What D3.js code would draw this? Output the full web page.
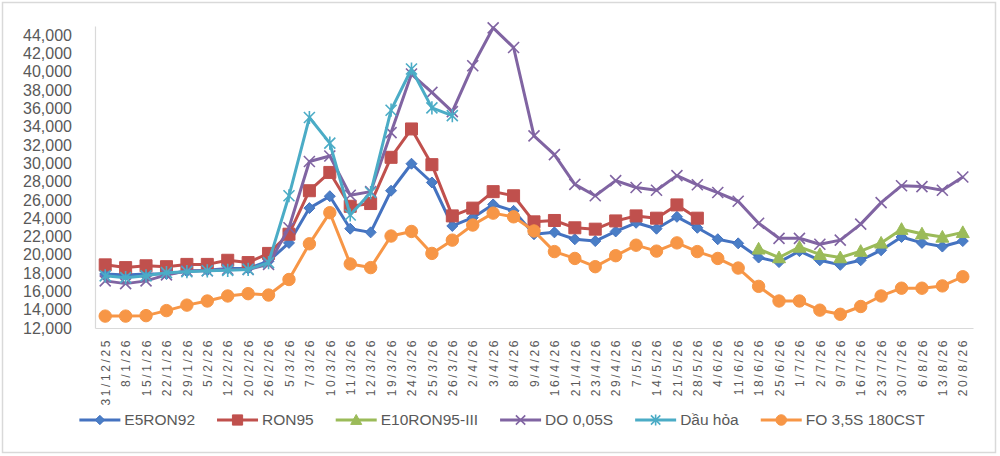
<!DOCTYPE html>
<html><head><meta charset="utf-8">
<script src="https://cdn.jsdelivr.net/npm/d3@7"></script>
<style>
html,body{margin:0;padding:0;background:#fff;}
svg{display:block;font-family:"Liberation Sans",Arial,sans-serif;}
</style></head>
<body><svg id="c" width="1000" height="456"></svg>
<script>
const dates = ["31/12/25","8/1/26","15/1/26","22/1/26","29/1/26","5/2/26","12/2/26","20/2/26","26/2/26","5/3/26","7/3/26","10/3/26","11/3/26","12/3/26","19/3/26","24/3/26","25/3/26","26/3/26","2/4/26","3/4/26","8/4/26","9/4/26","16/4/26","21/4/26","23/4/26","29/4/26","7/5/26","14/5/26","21/5/26","28/5/26","4/6/26","11/6/26","18/6/26","25/6/26","1/7/26","2/7/26","9/7/26","16/7/26","23/7/26","30/7/26","6/8/26","13/8/26","20/8/26"];

const e5ron92 = [17900,17800,17900,17900,18200,18300,18500,18500,19300,21300,25100,26400,22850,22450,27000,29950,27900,23150,24050,25500,24800,22250,22450,21700,21500,22550,23500,22850,24150,22950,21700,21250,19700,19200,20400,19400,18900,19400,20500,21950,21300,20900,21500];
const ron95 = [18900,18600,18800,18700,18950,18950,19400,19150,20150,22250,27000,29000,25300,25600,30650,33750,29850,24250,25100,26900,26450,23600,23750,22950,22800,23700,24250,24000,25450,24000,null,null,null,null,null,null,null,null,null,null,null,null,null];
const e10ron95 = [null,null,null,null,null,null,null,null,null,null,null,null,null,null,null,null,null,null,null,null,null,null,null,null,null,null,null,null,null,null,null,null,20650,19700,20850,20050,19700,20400,21300,22800,22300,21950,22450];
const do005s = [17150,16850,17150,17800,18250,18250,18400,18400,18950,22950,30200,30800,26500,26900,33350,39750,37750,35650,40650,44800,42650,33000,30950,27700,26450,28100,27350,27050,28650,27650,26800,25850,23450,21800,21800,21150,21600,23350,25700,27550,27450,27050,28500];
const dauhoa = [17700,17500,17700,18050,18150,18250,18300,18400,19150,26450,35000,32200,24350,26800,35800,40300,36050,35200,null,null,null,null,null,null,null,null,null,null,null,null,null,null,null,null,null,null,null,null,null,null,null,null,null];
const fo35s = [13300,13300,13350,13900,14500,14950,15500,15750,15600,17300,21200,24600,19000,18600,22050,22550,20150,21600,23250,24550,24150,22600,20350,19600,18700,19900,21050,20400,21300,20350,19600,18550,16550,14950,14950,13950,13500,14350,15500,16350,16350,16600,17600];

const seriesNames = ["E5RON92","RON95","E10RON95-III","DO 0,05S","Dầu hỏa","FO 3,5S 180CST"];
const yTicks = [12000,14000,16000,18000,20000,22000,24000,26000,28000,30000,32000,34000,36000,38000,40000,42000,44000];

const seriesData = [e5ron92, ron95, e10ron95, do005s, dauhoa, fo35s];
const styles = [
  {color:"#4472C0", fill:"#4A7EC6", marker:"diamond", size:5.5},
  {color:"#C0504D", fill:"#C0504D", marker:"square", size:6},
  {color:"#9BBB59", fill:"#9BBB59", marker:"triangle", size:6.5},
  {color:"#8064A2", fill:"#8064A2", marker:"x", size:5.5},
  {color:"#4BACC6", fill:"#4BACC6", marker:"star", size:5.5},
  {color:"#F79646", fill:"#F79646", marker:"circle", size:6.2}
];

const svg = d3.select("#c");
svg.append("rect").attr("x",2.5).attr("y",2.5).attr("width",993).attr("height",450)
  .attr("fill","#fff").attr("stroke","#d9d9d9").attr("stroke-width",1.5);

const L=95, R=973, T=26, B=328;
const x = d3.scalePoint().domain(dates).range([L,R]).padding(0.5);
const y = d3.scaleLinear().domain([12000,45000]).range([B,T]);

// axes
const yAxis = d3.axisLeft(y).tickValues(yTicks).tickFormat(d3.format(",")).tickSize(0).tickPadding(23);
const gy = svg.append("g").attr("transform",`translate(${L},0)`).call(yAxis);
gy.select(".domain").attr("stroke","#d9d9d9").attr("stroke-width",1.2);
gy.selectAll("text").attr("fill","#595959").attr("font-size","16px").attr("font-family","Liberation Sans, Arial, sans-serif");

const xAxis = d3.axisBottom(x).tickSize(0).tickPadding(0);
const gx = svg.append("g").attr("transform",`translate(0,${B})`).call(xAxis);
gx.select(".domain").attr("stroke","#d9d9d9").attr("stroke-width",1.2);
gx.selectAll("text")
  .attr("fill","#595959").attr("font-size","12px").attr("font-family","Liberation Sans, Arial, sans-serif")
  .attr("letter-spacing","2.6px")
  .attr("text-anchor","end").attr("dy","0.35em")
  .attr("transform","translate(0,10) rotate(-90)")
  .attr("x",0).attr("y",0);

function markerPath(type, s){
  switch(type){
    case "diamond": return `M0,${-s}L${s},0L0,${s}L${-s},0Z`;
    case "square": return `M${-s},${-s}H${s}V${s}H${-s}Z`;
    case "triangle": return `M0,${-s}L${s},${s*0.8}L${-s},${s*0.8}Z`;
    case "x": return `M${-s},${-s}L${s},${s}M${s},${-s}L${-s},${s}`;
    case "star": return `M${-s},${-s}L${s},${s}M${s},${-s}L${-s},${s}M0,${-s*1.2}V${s*1.2}`;
    case "circle": return d3.symbol(d3.symbolCircle, Math.PI*s*s)();
  }
}
function drawMarker(g, st, px, py, scale){
  const s = st.size*(scale||1);
  const open = (st.marker==="x"||st.marker==="star");
  g.append("path").attr("transform",`translate(${px},${py})`)
    .attr("d", markerPath(st.marker, s))
    .attr("fill", open ? "none" : st.fill)
    .attr("stroke", st.color)
    .attr("stroke-width", open ? 1.6 : 1);
}

const line = d3.line().defined(d=>d.v!=null).x(d=>x(d.k)).y(d=>y(d.v));
seriesData.forEach((arr,i)=>{
  const st = styles[i];
  const pts = arr.map((v,j)=>({k:dates[j], v}));
  const g = svg.append("g");
  g.append("path").datum(pts).attr("d",line).attr("fill","none")
    .attr("stroke",st.color).attr("stroke-width",3).attr("stroke-linejoin","round");
  pts.filter(p=>p.v!=null).forEach(p=>drawMarker(g, st, x(p.k), y(p.v)));
});

// legend
const lg = svg.append("g");
const ly = 420;
const items = [];
let cx = 0;
seriesNames.forEach((n,i)=>{
  const g = lg.append("g");
  g.append("line").attr("x1",0).attr("x2",41).attr("y1",0).attr("y2",0)
    .attr("stroke",styles[i].color).attr("stroke-width",3);
  drawMarker(g, styles[i], 20.5, 0, 0.85);
  const t = g.append("text").attr("x",45).attr("y",0).attr("dy","0.35em")
    .attr("fill","#595959").attr("font-size","15.5px").text(n);
  const w = 45 + t.node().getComputedTextLength();
  items.push({g, x:cx});
  cx += w + 22;
});
const total = cx - 22;
const start = 502 - total/2;
items.forEach(it=>it.g.attr("transform",`translate(${start+it.x},${ly})`));
</script></body></html>
